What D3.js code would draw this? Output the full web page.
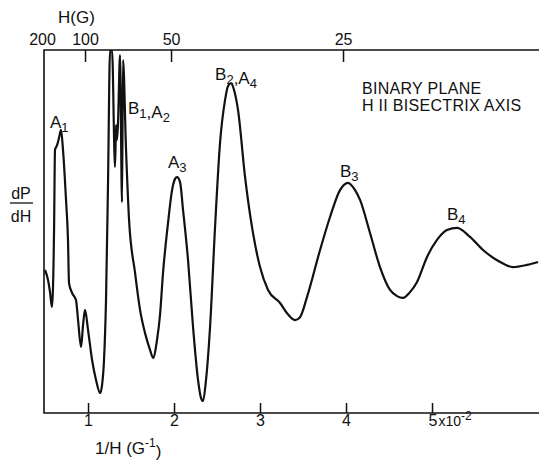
<!DOCTYPE html>
<html><head><meta charset="utf-8">
<script src="https://cdn.jsdelivr.net/npm/d3@7"></script>
<style>
body{margin:0;background:#fff}
text{font-family:"Liberation Sans",Arial,Helvetica,sans-serif;fill:#111}
</style>
</head><body>
<svg id="c" width="539" height="460"></svg>
<script>
// 1/H in units of 10^-2 G^-1
const invH = [0.500,0.535,0.558,0.581,0.605,0.616,0.640,0.663,0.686,0.709,0.744,0.767,0.779,0.814,0.860,0.884,0.919,0.942,0.965,1.000,
1.047,1.093,1.140,1.163,1.186,1.209,1.233,1.256,1.279,1.314,1.326,1.337,1.349,1.372,1.395,1.407,1.442,1.477,1.547,1.605,
1.663,1.721,1.756,1.802,1.837,1.872,1.930,1.977,2.012,2.035,2.070,2.105,2.163,2.221,2.279,2.314,2.337,2.372,2.419,2.477,
2.535,2.593,2.628,2.663,2.698,2.744,2.826,2.907,3.000,3.093,3.233,3.314,3.407,3.465,3.547,3.698,3.814,3.930,4.023,4.105,
4.163,4.279,4.395,4.512,4.593,4.663,4.744,4.826,4.942,5.058,5.174,5.291,5.442,5.593,5.756,5.942,6.105,6.233];
// dP/dH (arbitrary units)
const dPdH = [39.4,36.6,33.3,29.2,50.4,72.5,73.8,75.8,78.0,72.5,58.7,47.7,35.8,33.1,31.1,25.6,18.2,24.2,28.4,22.9,
14.6,9.1,5.5,7.7,14.6,31.1,64.2,100,100,67.8,79.3,75.2,80.2,98.6,58.1,97.2,72.5,53.2,38.6,28.4,
22.0,17.4,15.2,20.1,27.0,38.6,52.3,61.4,64.5,65.0,63.6,55.9,42.1,23.7,9.1,4.1,3.3,9.1,23.7,51.2,
74.4,86.2,90.1,90.9,89.0,83.5,65.0,51.2,40.2,33.9,30.3,27.5,25.6,26.4,32.0,44.9,54.0,61.4,63.4,61.4,
58.7,49.6,40.2,33.9,32.2,31.7,33.3,36.1,43.0,47.7,50.4,51.0,48.5,44.9,42.1,40.2,40.8,41.6];

const bottomTicks = [1,2,3,4,5];
const topTicksH = [200,100,50,25];

// peak labels: [main, sub] pairs, anchored in data coordinates
const peakLabels = [
  {parts:[["A","1"]], x:0.558, y:78.5},
  {parts:[["B","1"],[",A","2"]], x:1.465, y:82.4},
  {parts:[["A","3"]], x:1.930, y:67.5},
  {parts:[["B","2"],[",A","4"]], x:2.477, y:91.7},
  {parts:[["B","3"]], x:3.930, y:65.0},
  {parts:[["B","4"]], x:5.174, y:53.2}
];
const titleLines = ["BINARY  PLANE","H II BISECTRIX  AXIS"];

const svg = d3.select("#c");
const L=44, R=539, T=50, B=413;
const x = d3.scaleLinear().domain([0.488,6.244]).range([L,R]);
const y = d3.scaleLinear().domain([0,100]).range([B,T]);
const xTop = x.copy().range([L-3,R-3]);
const FF = "Liberation Sans, Arial, sans-serif";

svg.append("defs").append("clipPath").attr("id","clip")
  .append("rect").attr("x",L).attr("y",T).attr("width",R-L).attr("height",B-T);

// frame
svg.append("path").attr("d",`M${R},${T}H${L}V${B}H${R}`)
  .attr("fill","none").attr("stroke","#111").attr("stroke-width",1.6);

// bottom axis
const ax = svg.append("g").attr("transform",`translate(0,${B})`)
  .call(d3.axisBottom(x).tickValues(bottomTicks).tickSizeInner(-10).tickSizeOuter(0).tickPadding(2)
    .tickFormat(d3.format("d")));
ax.select(".domain").remove();
ax.selectAll(".tick line").attr("stroke","#111").attr("stroke-width",1.5);
ax.selectAll(".tick text").attr("font-size",16).attr("fill","#111").style("font-family",FF);
ax.selectAll(".tick").filter(d=>d===5).select("text")
  .attr("text-anchor","start").attr("x",-4)
  .text(null)
  .call(t=>{
    t.append("tspan").text("5");
    t.append("tspan").attr("font-size",14).attr("dx",1).text("x10");
    t.append("tspan").attr("font-size",12).attr("dy","-0.5em").text("-2");
  });

// top axis (H in gauss)
const at = svg.append("g").attr("transform",`translate(0,${T})`)
  .call(d3.axisTop(xTop).tickValues(topTicksH.map(h=>100/h)).tickSizeInner(-12).tickSizeOuter(0).tickPadding(5)
    .tickFormat(v=>String(Math.round(100/v))));
at.select(".domain").remove();
at.selectAll(".tick line").attr("stroke","#111").attr("stroke-width",1.5);
at.selectAll(".tick").filter(d=>Math.round(100/d)===200).select("line").remove();
at.selectAll(".tick text").attr("font-size",16).attr("fill","#111").style("font-family",FF);

svg.append("text").attr("x",58).attr("y",23).attr("font-size",17).text("H(G)");

// x-axis label
const xl = svg.append("text").attr("x",95).attr("y",454).attr("font-size",17);
xl.append("tspan").text("1/H  (G");
xl.append("tspan").attr("font-size",12).attr("dy","-0.55em").text("-1");
xl.append("tspan").attr("dy","0.55em").text(")");

// y-axis label
svg.append("text").attr("x",21).attr("y",199).attr("font-size",16).attr("text-anchor","middle").text("dP");
svg.append("line").attr("x1",10).attr("x2",33).attr("y1",203).attr("y2",203).attr("stroke","#111").attr("stroke-width",1.3);
svg.append("text").attr("x",21).attr("y",222).attr("font-size",16).attr("text-anchor","middle").text("dH");

// curve
const pts = invH.map((v,i)=>[v,dPdH[i]]);
svg.append("path").datum(pts).attr("clip-path","url(#clip)")
  .attr("fill","none").attr("stroke","#111").attr("stroke-width",2.2).attr("stroke-linejoin","round")
  .attr("d",d3.line().x(d=>x(d[0])).y(d=>y(d[1])).curve(d3.curveMonotoneX));

// peak labels
peakLabels.forEach(p=>{
  const t = svg.append("text").attr("x",x(p.x)).attr("y",y(p.y)).attr("font-size",17);
  p.parts.forEach(([m,s])=>{
    t.append("tspan").text(m);
    t.append("tspan").attr("font-size",13).attr("dy","0.3em").text(s);
    t.append("tspan").attr("dy","-0.3em").text("");
  });
});

// title
titleLines.forEach((s,i)=>{
  svg.append("text").attr("x",362).attr("y",94+i*17).attr("font-size",16)
    .attr("letter-spacing",0.3).text(s);
});
</script>
</body></html>
